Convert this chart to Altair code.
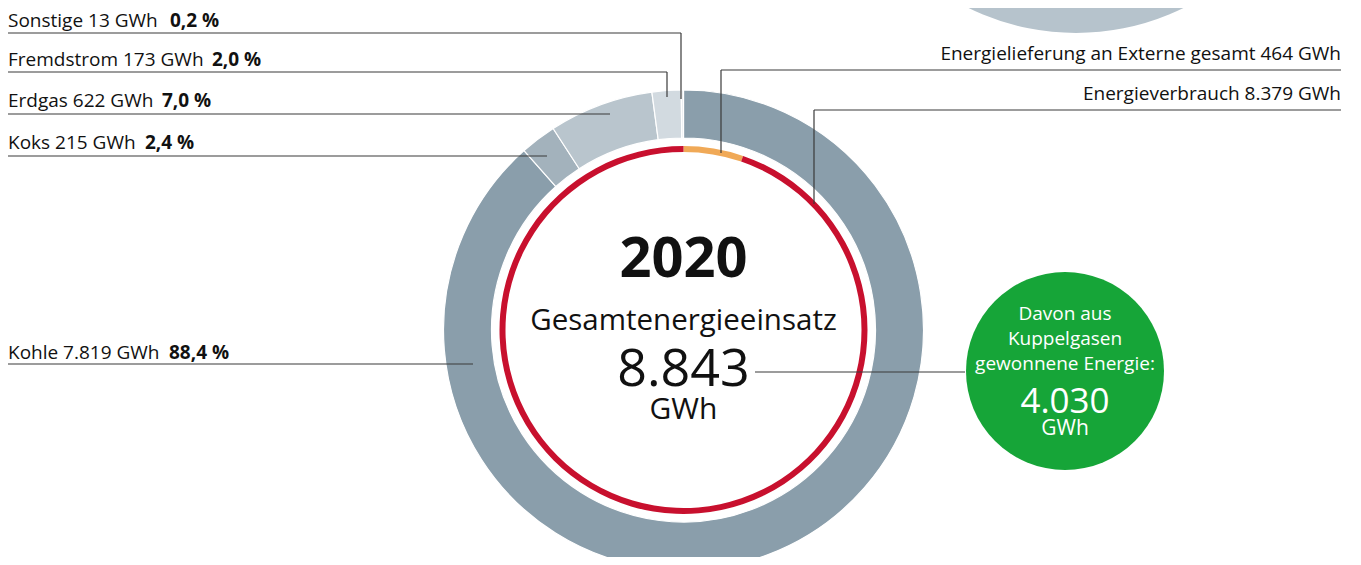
import altair as alt
import pandas as pd

# ---------------- data ----------------
YEAR = "2020"
SOURCES = ["Kohle", "Koks", "Erdgas", "Fremdstrom", "Sonstige"]
SOURCE_GWH = [7819, 215, 622, 173, 13]
SOURCE_PCT = ["88,4 %", "2,4 %", "7,0 %", "2,0 %", "0,2 %"]
USES = ["Energielieferung an Externe gesamt", "Energieverbrauch"]
USE_GWH = [464, 8379]
TOTAL_GWH = 8843
KUPPEL_GWH = 4030

# ---------------- styles ----------------
SOURCE_COLORS = ["#8a9eab", "#a3b2bc", "#b9c5cd", "#d2dae0", "#e9edf0"]
USE_COLORS = ["#f0a957", "#c8102e"]
FONT = "Open Sans"
INK = "#111111"

def de(n):
    return f"{n:,}".replace(",", ".")

CX, CY = 675.5, 322  # donut centre (chart px)

src = pd.DataFrame({"cat": SOURCES, "gwh": SOURCE_GWH, "idx": list(range(len(SOURCES)))})
use = pd.DataFrame({"use": USES, "gwh": USE_GWH, "idx": list(range(len(USES)))})

outer = alt.Chart(src).mark_arc(radius=240, radius2=192, stroke="white", strokeWidth=1.2).encode(
    theta=alt.Theta("gwh:Q", stack=True),
    color=alt.Color("cat:N", scale=alt.Scale(domain=SOURCES, range=SOURCE_COLORS), legend=None),
    order=alt.Order("idx:Q"),
    x=alt.value(CX), y=alt.value(CY),
)

inner = alt.Chart(use).mark_arc(radius=184, radius2=178).encode(
    theta=alt.Theta("gwh:Q", stack=True),
    color=alt.Color("use:N", scale=alt.Scale(domain=USES, range=USE_COLORS), legend=None),
    order=alt.Order("idx:Q"),
    x=alt.value(CX), y=alt.value(CY),
)

one = pd.DataFrame({"v": [1]})

# partial circle of the neighbouring chart (top right)
neighbour = alt.Chart(one).mark_arc(radius=243, theta=0, theta2=6.2832, color="#b6c3cc").encode(
    x=alt.value(1068), y=alt.value(-218)
)
green = alt.Chart(one).mark_arc(radius=99, theta=0, theta2=6.2832, color="#16a538").encode(
    x=alt.value(1057), y=alt.value(363)
)

# leader lines (x1, y1, x2, y2) in chart px
LEADERS = [
    (0, 25, 673, 25), (673, 25, 673, 91),        # Sonstige
    (0, 64, 659, 64), (659, 64, 659, 89),        # Fremdstrom
    (0, 106, 602, 106),                          # Erdgas
    (0, 148, 539, 148),                          # Koks
    (0, 356, 465, 356),                          # Kohle
    (713, 62, 1333, 62), (713, 62, 713, 145),    # Externe
    (806, 102, 1333, 102), (806, 102, 806, 196), # Verbrauch
    (747, 364, 957, 364),                        # to green circle
]
rules = []
for (x1, y1, x2, y2) in LEADERS:
    rules.append(alt.Chart(one).mark_rule(color="#3a3a3a", strokeWidth=1.2).encode(
        x=alt.value(x1), x2=alt.value(x2), y=alt.value(y1), y2=alt.value(y2)))

texts = []
def txt(s, x, y, size, weight="normal", align="left", color=INK):
    texts.append(alt.Chart(pd.DataFrame({"t": [s]})).mark_text(
        font=FONT, fontSize=size, fontWeight=weight, align=align, baseline="alphabetic", color=color
    ).encode(text="t:N", x=alt.value(x), y=alt.value(y)))

# left labels: order top to bottom = Sonstige, Fremdstrom, Erdgas, Koks, Kohle
LABEL_ROWS = [(4, 19, 162), (3, 58, 204), (2, 99, 154), (1, 141, 137), (0, 351, 161)]
for i, yb, xb in LABEL_ROWS:
    txt(f"{SOURCES[i]} {de(SOURCE_GWH[i])} GWh", 0, yb, 19)
    txt(SOURCE_PCT[i], xb, yb, 19, weight="bold")

txt(f"{USES[0]} {de(USE_GWH[0])} GWh", 1333, 52, 19, align="right")
txt(f"{USES[1]} {de(USE_GWH[1])} GWh", 1333, 92, 19, align="right")

# centre
txt(YEAR, CX, 269, 56, weight="bold", align="center")
txt("Gesamtenergieeinsatz", CX, 322, 29.5, align="center")
txt(de(TOTAL_GWH), CX, 378, 52, align="center")
txt("GWh", CX, 411, 30, align="center")

# green circle
W = "#ffffff"
txt("Davon aus", 1057, 312, 19, align="center", color=W)
txt("Kuppelgasen", 1057, 337, 19, align="center", color=W)
txt("gewonnene Energie:", 1057, 362, 19, align="center", color=W)
txt(de(KUPPEL_GWH), 1057, 405, 35, align="center", color=W)
txt("GWh", 1057, 427, 21, align="center", color=W)

chart = alt.layer(neighbour, outer, inner, green, *rules, *texts).resolve_scale(
    color="independent", theta="independent"
).properties(
    width=1345, height=549, padding=0, autosize="none"
).configure_view(strokeWidth=0)

chart.save("out.html", embed_options={"renderer": "svg", "actions": False})
